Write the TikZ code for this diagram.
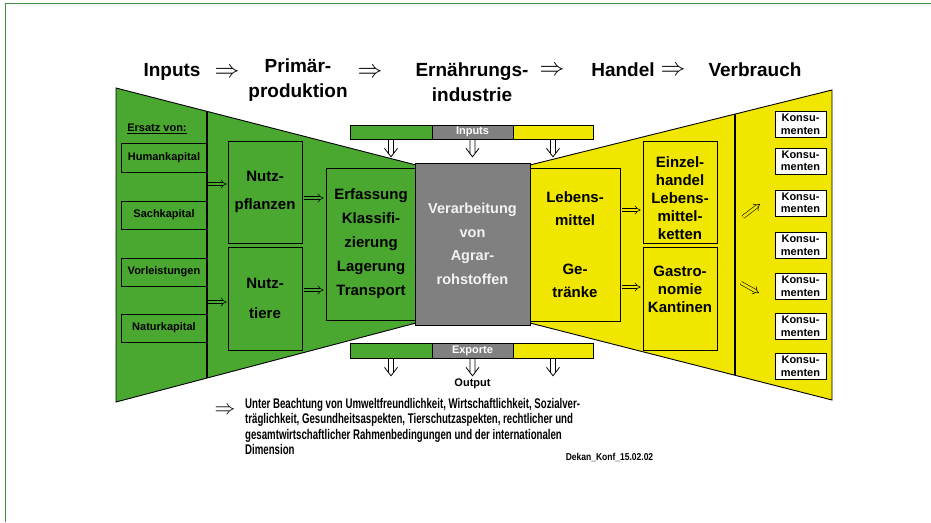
\documentclass[tikz,border=0pt]{standalone}
\usepackage{fontspec}
\setmainfont{Liberation Sans}
\newfontfamily\narrowfont[FakeStretch=0.69]{Liberation Sans}
\newfontfamily\semifont[FakeStretch=0.85]{Liberation Sans}
\usetikzlibrary{arrows.meta}
\definecolor{agreen}{RGB}{74,168,48}
\definecolor{ayellow}{RGB}{240,230,0}
\definecolor{agray}{RGB}{128,128,128}
\definecolor{aframe}{RGB}{70,140,70}
\begin{document}
\begin{tikzpicture}[x=1pt,y=-1pt,
  box/.style={draw=black, line width=0.8pt, inner sep=0pt, align=center},
  bigtxt/.style={font=\fontsize{15}{24}\selectfont\bfseries, align=center, inner sep=0pt},
  smallbox/.style={box, minimum width=86pt, font=\fontsize{11}{13}\selectfont\bfseries},
  barseg/.style={draw=black, line width=0.6pt, inner sep=0pt, minimum height=14pt,
     font=\fontsize{11}{13}\selectfont\bfseries, text=white},
  konsbox/.style={box, fill=white, minimum width=51pt, minimum height=26pt,
     font=\fontsize{11}{12.5}\selectfont\bfseries},
  titletxt/.style={font=\fontsize{19}{25}\selectfont\bfseries, align=center, inner sep=0pt},
  bigarrow/.style={font=\fontsize{24}{24}\selectfont, inner sep=0pt},
  dbl/.style={draw=black, line width=0.55pt, double distance=2.6pt, -{Implies}},
  downarr/.pic={\draw[line width=0.8pt, line join=miter]
      (-2.5,0) -- (-2.5,13.6) (2.5,0) -- (2.5,13.6) (-6.5,9) -- (0,17.5) -- (6.5,9);},
]
\useasboundingbox (0,0) rectangle (931,522);
\fill[white] (0,0) rectangle (931,522);
% frame
\draw[aframe, line width=1.4pt] (5.5,522) -- (5.5,3.5) -- (931,3.5);

% titles
\node[titletxt] (tInputs) at (172,72) {Inputs};
\node[bigarrow] (tA1) at (227,73) {$\Rightarrow$};
\node[titletxt] (tPrim) at (298,80) {Primär-\\produktion};
\node[bigarrow] (tA2) at (370,73) {$\Rightarrow$};
\node[titletxt] (tErn) at (472,82) {Ernährungs-\\industrie};
\node[bigarrow] (tA3) at (552,71) {$\Rightarrow$};
\node[titletxt] (tHandel) at (623,70) {Handel};
\node[bigarrow] (tA4) at (673,71) {$\Rightarrow$};
\node[titletxt] (tVerb) at (755,70) {Verbrauch};

% trapezoids
\draw[fill=agreen, line width=0.9pt] (116,88) -- (416,165) -- (416,323) -- (116,402) -- cycle;
\draw[line width=1.6pt] (207,111) -- (207,378);
\draw[fill=ayellow, line width=0.9pt] (530,165) -- (832,90) -- (832,400) -- (530,323) -- cycle;
\draw[line width=1.8pt] (735,114) -- (735,375);

% left column
\node[font=\fontsize{11}{13}\selectfont\bfseries, inner sep=0pt] (ersatz) at (157,129) {\underline{Ersatz von:}};
\node[smallbox, minimum height=29pt] (hk) at (164,157.5) {Humankapital};
\node[smallbox, minimum height=28pt] (sk) at (164,215) {Sachkapital};
\node[smallbox, minimum height=28pt] (vl) at (164,272) {Vorleistungen};
\node[smallbox, minimum height=28pt] (nk) at (164,328) {Naturkapital};

% primary production
\node[box, minimum width=74pt, minimum height=102pt, font=\fontsize{15}{28}\selectfont\bfseries] (pfl) at (265,192) {Nutz-\\pflanzen};
\node[box, minimum width=74pt, minimum height=103pt, font=\fontsize{15}{30}\selectfont\bfseries] (tiere) at (265,298.5) {Nutz-\\tiere};
\node[box, minimum width=90pt, minimum height=152pt, font=\fontsize{15}{24}\selectfont\bfseries] (erf) at (371,244) {Erfassung\\Klassifi-\\zierung\\Lagerung\\Transport};

% processing
\node[box, fill=agray, minimum width=115pt, minimum height=162pt, text=white!95!black,
      font=\fontsize{14.5}{23.5}\selectfont\bfseries] (verarb) at (472.5,244) {Verarbeitung\\von\\Agrar-\\rohstoffen};
\node[box, minimum width=90pt, minimum height=153pt, font=\fontsize{15}{23}\selectfont\bfseries] (lm) at (575,244.5) {Lebens-\\mittel\\[26pt]Ge-\\tränke};

% trade
\node[box, minimum width=74pt, minimum height=102pt] (einz) at (680,192) {};
\node[bigtxt, font=\fontsize{15}{18}\selectfont\bfseries] (einzT) at (680,198) {Einzel-\\handel\\Lebens-\\mittel-\\ketten};
\node[box, minimum width=74pt, minimum height=103pt] (gastro) at (680,298.5) {};
\node[bigtxt, font=\fontsize{15}{18}\selectfont\bfseries] (gastroT) at (680,289) {Gastro-\\nomie\\Kantinen};

% consumers
\node[konsbox] (k1) at (800.5,124.5) {Konsu-\\menten};
\node[konsbox] (k2) at (800.5,161) {Konsu-\\menten};
\node[konsbox] (k3) at (800.5,203) {Konsu-\\menten};
\node[konsbox] (k4) at (800.5,245.5) {Konsu-\\menten};
\node[konsbox] (k5) at (800.5,286.5) {Konsu-\\menten};
\node[konsbox] (k6) at (800.5,326.5) {Konsu-\\menten};
\node[konsbox] (k7) at (800.5,366.5) {Konsu-\\menten};

% input bar
\node[barseg, fill=agreen, minimum width=82pt] (inG) at (391,132) {};
\node[barseg, fill=agray, minimum width=81pt] (inM) at (472.5,132) {Inputs};
\node[barseg, fill=ayellow, minimum width=80pt] (inY) at (553,132) {};
% export bar
\node[barseg, fill=agreen, minimum width=82pt, minimum height=15pt] (exG) at (391,350.5) {};
\node[barseg, fill=agray, minimum width=81pt, minimum height=15pt] (exM) at (472.5,350.5) {Exporte};
\node[barseg, fill=ayellow, minimum width=80pt, minimum height=15pt] (exY) at (553,350.5) {};

% downward hollow arrows
\path (inG.south) pic {downarr};
\path (inM.south) pic {downarr};
\path (inY.south) pic {downarr};
\path (exG.south) pic {downarr};
\path (exM.south) pic {downarr};
\path (exY.south) pic {downarr};
\node[font=\fontsize{11}{13}\selectfont\bfseries, inner sep=0pt] (output) at (472.5,384) {Output};

% side arrows, green part
\coordinate (lineA) at (207.5,184);
\coordinate (lineB) at (207.5,302);
\draw[dbl, double=agreen, shorten >=1pt] (lineA) -- (lineA -| pfl.west);
\draw[dbl, double=agreen, shorten >=1pt] (lineB) -- (lineB -| tiere.west);
\path ([yshift=-6pt]pfl.east) coordinate (pA);
\path ([yshift=8.5pt]tiere.east) coordinate (pB);
\draw[dbl, double=agreen, shorten <=2pt, shorten >=2pt] (pA) -- (pA -| erf.west);
\draw[dbl, double=agreen, shorten <=2pt, shorten >=2pt] (pB) -- (pB -| erf.west);
% side arrows, yellow part
\path ([yshift=34.5pt]lm.east) coordinate (lA);
\path ([yshift=-42.5pt]lm.east) coordinate (lB);
\draw[dbl, double=ayellow, shorten <=2pt, shorten >=2pt] (lA) -- (lA -| einz.west);
\draw[dbl, double=ayellow, shorten <=2pt, shorten >=2pt] (lB) -- (lB -| gastro.west);
\coordinate (dgA1) at (743,217);
\coordinate (dgA2) at (760,204);
\coordinate (dgB1) at (741,283);
\coordinate (dgB2) at (759,293);
\draw[dbl, double=ayellow] (dgA1) -- (dgA2);
\draw[dbl, double=ayellow] (dgB1) -- (dgB2);

% bottom note
\node[bigarrow, font=\fontsize{20}{20}\selectfont] (noteArrow) at (225,411) {$\Rightarrow$};
\node[anchor=north west, align=left, inner sep=0pt,
      font=\narrowfont\fontsize{14}{15.5}\selectfont\bfseries] (note) at (245,398)
 {Unter Beachtung von Umweltfreundlichkeit, Wirtschaftlichkeit, Sozialver-\\
  träglichkeit, Gesundheitsaspekten, Tierschutzaspekten, rechtlicher und\\
  gesamtwirtschaftlicher Rahmenbedingungen und der internationalen\\
  Dimension};
\node[font=\semifont\fontsize{10}{12}\selectfont\bfseries, inner sep=0pt] (dekan) at (609.5,457) {Dekan\_Konf\_15.02.02};
\end{tikzpicture}
\end{document}
